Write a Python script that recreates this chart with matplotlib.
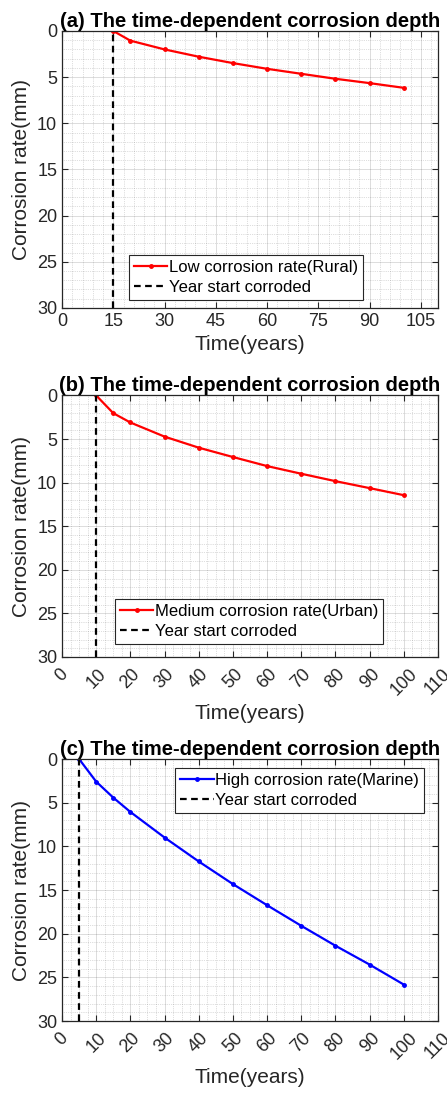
import matplotlib
matplotlib.use('Agg')
import matplotlib.pyplot as plt
from matplotlib.ticker import MultipleLocator, AutoMinorLocator

plt.rcParams['font.family'] = ['Liberation Sans', 'DejaVu Sans']

# corrosion depth data
years_a = [15, 20, 30, 40, 50, 60, 70, 80, 90, 100]
depth_a = [0, 1.05, 2.0, 2.79, 3.48, 4.1, 4.64, 5.18, 5.65, 6.16]

years_b = [10, 15, 20, 30, 40, 50, 60, 70, 80, 90, 100]
depth_b = [0, 2.03, 3.1, 4.72, 5.99, 7.06, 8.1, 8.98, 9.83, 10.63, 11.44]

years_c = [5, 10, 15, 20, 30, 40, 50, 60, 70, 80, 90, 100]
depth_c = [0, 2.59, 4.42, 6.06, 8.99, 11.73, 14.32, 16.74, 19.1, 21.38, 23.54, 25.83]

start_years = [15, 10, 5]
titles = ['(a) The time-dependent corrosion depth',
          '(b) The time-dependent corrosion depth',
          '(c) The time-dependent corrosion depth']
labels = ['Low corrosion rate(Rural)',
          'Medium corrosion rate(Urban)',
          'High corrosion rate(Marine)']
colors = ['red', 'red', 'blue']

dark = '#262626'
fig = plt.figure(figsize=(4.47, 10.94), dpi=100)
axes = [fig.add_axes([0.1387, 0.7185, 0.8412, 0.2532]),
        fig.add_axes([0.1387, 0.3995, 0.8412, 0.2390]),
        fig.add_axes([0.1387, 0.0667, 0.8412, 0.2395])]

series = [(years_a, depth_a), (years_b, depth_b), (years_c, depth_c)]
leg_pos = [('lower left', (0.178, 0.029)),
           ('lower left', (0.141, 0.050)),
           ('upper right', (0.963, 0.966))]

for i, ax in enumerate(axes):
    x, y = series[i]
    ax.plot(x, y, color=colors[i], lw=1.6, marker='.', markersize=5, label=labels[i])
    ax.axvline(start_years[i], color='black', ls='--', lw=1.6, dashes=(3, 2),
               label='Year start corroded')
    ax.set_xlim(0, 110)
    ax.set_ylim(30, 0)
    ax.yaxis.set_major_locator(MultipleLocator(5))
    ax.yaxis.set_minor_locator(AutoMinorLocator(5))
    ax.tick_params(which='major', direction='in', top=True, right=True, length=4,
                   width=0.8, color=dark, labelcolor=dark, labelsize=13)
    if i == 0:
        ax.xaxis.set_major_locator(MultipleLocator(15))
        ax.xaxis.set_minor_locator(AutoMinorLocator(5))
    else:
        ax.xaxis.set_major_locator(MultipleLocator(10))
        ax.xaxis.set_minor_locator(AutoMinorLocator(4))
        plt.setp(ax.get_xticklabels(), rotation=45, ha='center', va='top')
        ax.tick_params(axis='x', pad=6)
    ax.grid(True, which='major', color=dark, alpha=0.18, lw=0.6)
    ax.grid(True, which='minor', color=dark, alpha=0.3, lw=0.5, ls=':')
    ax.tick_params(which='minor', length=0)
    for s in ax.spines.values():
        s.set_color(dark)
        s.set_linewidth(0.9)
    ax.set_axisbelow(True)
    ax.set_title(titles[i], fontsize=14.5, fontweight='bold', pad=3)
    ax.set_xlabel('Time(years)', fontsize=15, color=dark)
    ax.set_ylabel('Corrosion rate(mm)', fontsize=15, color=dark)
    loc, anchor = leg_pos[i]
    leg = ax.legend(loc=loc, bbox_to_anchor=anchor, borderaxespad=0, fontsize=12,
                    fancybox=False, framealpha=1, edgecolor=dark, numpoints=1,
                    handlelength=2, handletextpad=0.1, borderpad=0.3,
                    labelspacing=0.3)
    leg.get_frame().set_linewidth(0.8)

fig.savefig('out.png', dpi=100)
